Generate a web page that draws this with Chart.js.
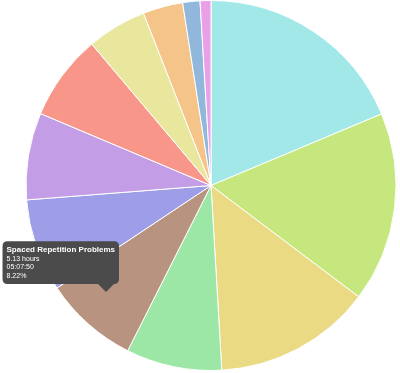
<!DOCTYPE html>
<html>
<head>
<meta charset="utf-8">
<script src="https://cdn.jsdelivr.net/npm/chart.js@4"></script>
<style>
  html, body { margin: 0; padding: 0; background: #fff; }
  #wrap { width: 400px; height: 373px; position: relative; }
</style>
</head>
<body>
<div id="wrap"><canvas id="chart"></canvas></div>
<script>
// time spent per activity, in hours
const labels = [
  "Lectures",
  "Reading",
  "Homework",
  "Flashcards",
  "Spaced Repetition Problems",
  "Practice Exams",
  "Lab Work",
  "Note Review",
  "Group Study",
  "Essay Writing",
  "Office Hours",
  "Planning"
];
const hours = [11.66, 10.36, 8.61, 5.22, 5.1306, 5.06, 4.74, 4.68, 3.25, 2.18, 0.94, 0.59];
const colors = [
  "#a2e8e9", "#c5e77e", "#eada83", "#9ce6a6", "#b8937f", "#9d9de8",
  "#c39ee6", "#f89689", "#e9e69d", "#f5c489", "#91b8dc", "#e9a0e9"
];

const total = hours.reduce((a, b) => a + b, 0);

function toHMS(h) {
  let secs = Math.round(h * 3600);
  const hh = Math.floor(secs / 3600);
  secs -= hh * 3600;
  const mm = Math.floor(secs / 60);
  const ss = secs - mm * 60;
  return [hh, mm, ss].map(v => String(v).padStart(2, "0")).join(":");
}

// tooltip sits where the slice was tapped
Chart.Tooltip.positioners.tap = function(elements, eventPosition) {
  return eventPosition;
};

const ctx = document.getElementById("chart");
const chart = new Chart(ctx, {
  type: "pie",
  data: {
    labels: labels,
    datasets: [{
      data: hours,
      backgroundColor: colors,
      hoverBackgroundColor: colors,
      borderColor: "#ffffff",
      borderWidth: 1,
      hoverOffset: 0
    }]
  },
  options: {
    responsive: true,
    maintainAspectRatio: false,
    animation: false,
    layout: { padding: { left: 22, top: 0, bottom: 2, right: 0 } },
    events: [],
    plugins: {
      legend: { display: false },
      tooltip: {
        position: "tap",
        xAlign: "right",
        yAlign: "bottom",
        backgroundColor: "#4b4b4b",
        displayColors: false,
        cornerRadius: 5,
        caretSize: 8,
        caretPadding: 2,
        padding: 4,
        titleFont: { family: "Helvetica, Arial, sans-serif", size: 8, weight: "bold" },
        bodyFont: { family: "Helvetica, Arial, sans-serif", size: 7 },
        titleMarginBottom: 0,
        bodySpacing: 0,
        titleColor: "#fff",
        bodyColor: "#fff",
        callbacks: {
          label: function(item) {
            const v = item.raw;
            return [
              v.toFixed(2) + " hours",
              toHMS(v),
              (v / total * 100).toFixed(2) + "%"
            ];
          }
        }
      }
    }
  }
});

chart.tooltip.setActiveElements([{ datasetIndex: 0, index: 4 }], { x: 106, y: 294 });
chart.update();
</script>
</body>
</html>
